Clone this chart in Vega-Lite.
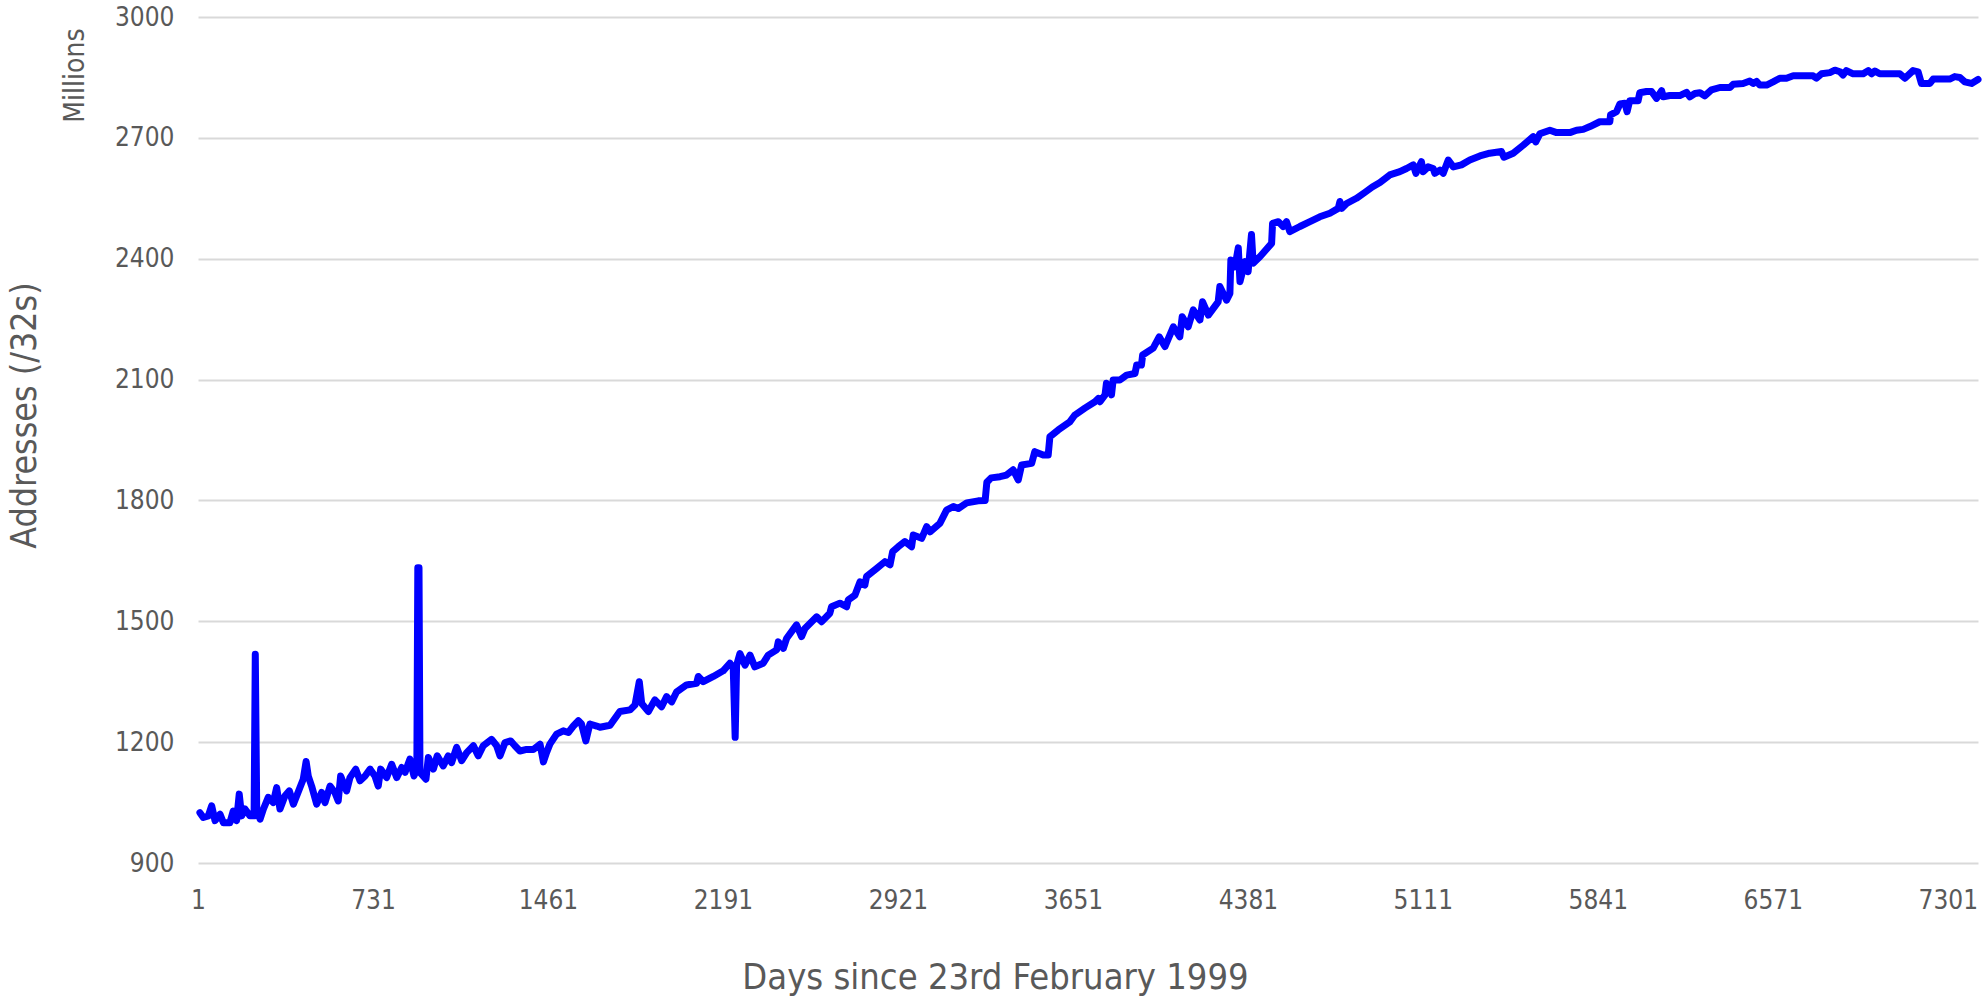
{
  "$schema": "https://vega.github.io/schema/vega-lite/v6.json",
  "width": 1780,
  "height": 846,
  "autosize": {"type": "none"},
  "padding": {"left": 198, "top": 17, "right": 4, "bottom": 134},
  "background": "white",
  "config": {"view": {"stroke": null}, "font": "DejaVu Sans Condensed"},
  "data": {"values": [
    {"day":9,"addresses":1025},{"day":23,"addresses":1013},{"day":44,"addresses":1017},{"day":58,"addresses":1042},{"day":72,"addresses":1005},{"day":93,"addresses":1021},{"day":107,"addresses":1000},{"day":134,"addresses":1000},{"day":148,"addresses":1029},{"day":162,"addresses":1005},{"day":173,"addresses":1071},{"day":183,"addresses":1017},{"day":197,"addresses":1034},{"day":218,"addresses":1017},{"day":235,"addresses":1017},{"day":240,"addresses":1418},{"day":246,"addresses":1034},{"day":260,"addresses":1009},{"day":274,"addresses":1034},{"day":294,"addresses":1063},{"day":315,"addresses":1050},{"day":329,"addresses":1087},{"day":343,"addresses":1034},{"day":364,"addresses":1067},{"day":382,"addresses":1079},{"day":399,"addresses":1046},{"day":426,"addresses":1087},{"day":440,"addresses":1108},{"day":452,"addresses":1152},{"day":461,"addresses":1116},{"day":475,"addresses":1091},{"day":496,"addresses":1046},{"day":517,"addresses":1075},{"day":531,"addresses":1050},{"day":552,"addresses":1091},{"day":572,"addresses":1075},{"day":586,"addresses":1054},{"day":596,"addresses":1116},{"day":621,"addresses":1079},{"day":635,"addresses":1112},{"day":659,"addresses":1133},{"day":677,"addresses":1104},{"day":698,"addresses":1116},{"day":719,"addresses":1133},{"day":739,"addresses":1116},{"day":753,"addresses":1091},{"day":763,"addresses":1133},{"day":788,"addresses":1112},{"day":809,"addresses":1145},{"day":830,"addresses":1112},{"day":851,"addresses":1137},{"day":865,"addresses":1125},{"day":885,"addresses":1158},{"day":902,"addresses":1116},{"day":914,"addresses":1133},{"day":918,"addresses":1633},{"day":923,"addresses":1633},{"day":927,"addresses":1125},{"day":952,"addresses":1108},{"day":962,"addresses":1162},{"day":983,"addresses":1133},{"day":999,"addresses":1166},{"day":1024,"addresses":1141},{"day":1045,"addresses":1166},{"day":1059,"addresses":1149},{"day":1080,"addresses":1187},{"day":1101,"addresses":1154},{"day":1122,"addresses":1174},{"day":1150,"addresses":1191},{"day":1170,"addresses":1166},{"day":1191,"addresses":1191},{"day":1226,"addresses":1207},{"day":1247,"addresses":1191},{"day":1261,"addresses":1166},{"day":1282,"addresses":1199},{"day":1305,"addresses":1203},{"day":1323,"addresses":1191},{"day":1344,"addresses":1178},{"day":1372,"addresses":1182},{"day":1400,"addresses":1182},{"day":1428,"addresses":1195},{"day":1442,"addresses":1151},{"day":1455,"addresses":1174},{"day":1469,"addresses":1195},{"day":1497,"addresses":1220},{"day":1525,"addresses":1228},{"day":1546,"addresses":1224},{"day":1567,"addresses":1240},{"day":1588,"addresses":1253},{"day":1601,"addresses":1245},{"day":1619,"addresses":1203},{"day":1636,"addresses":1245},{"day":1664,"addresses":1240},
    {"day":1678,"addresses":1237},{"day":1720,"addresses":1242},{"day":1761,"addresses":1276},{"day":1803,"addresses":1280},{"day":1824,"addresses":1292},{"day":1842,"addresses":1350},{"day":1852,"addresses":1296},{"day":1880,"addresses":1276},{"day":1907,"addresses":1305},{"day":1935,"addresses":1288},{"day":1956,"addresses":1313},{"day":1977,"addresses":1300},{"day":1998,"addresses":1325},{"day":2039,"addresses":1342},{"day":2081,"addresses":1346},{"day":2088,"addresses":1363},{"day":2109,"addresses":1350},{"day":2151,"addresses":1363},{"day":2192,"addresses":1377},{"day":2220,"addresses":1396},{"day":2234,"addresses":1383},{"day":2242,"addresses":1212},{"day":2248,"addresses":1391},{"day":2262,"addresses":1420},{"day":2283,"addresses":1391},{"day":2304,"addresses":1416},{"day":2324,"addresses":1387},{"day":2359,"addresses":1396},{"day":2380,"addresses":1416},{"day":2415,"addresses":1429},{"day":2422,"addresses":1449},{"day":2443,"addresses":1433},{"day":2457,"addresses":1458},{"day":2498,"addresses":1491},{"day":2519,"addresses":1462},{"day":2533,"addresses":1482},{"day":2582,"addresses":1511},{"day":2603,"addresses":1499},{"day":2637,"addresses":1520},{"day":2644,"addresses":1536},{"day":2679,"addresses":1545},{"day":2707,"addresses":1536},{"day":2714,"addresses":1553},{"day":2742,"addresses":1565},{"day":2763,"addresses":1598},{"day":2783,"addresses":1590},{"day":2790,"addresses":1611},{"day":2832,"addresses":1631},{"day":2867,"addresses":1648},{"day":2888,"addresses":1640},{"day":2899,"addresses":1673},{"day":2922,"addresses":1685},{"day":2950,"addresses":1698},{"day":2978,"addresses":1685},{"day":2985,"addresses":1714},{"day":3020,"addresses":1706},{"day":3041,"addresses":1735},{"day":3055,"addresses":1722},{"day":3096,"addresses":1743},{"day":3124,"addresses":1776},{"day":3152,"addresses":1785},{"day":3173,"addresses":1780},{"day":3208,"addresses":1794},{"day":3256,"addresses":1799},{"day":3285,"addresses":1800},{"day":3292,"addresses":1845},{"day":3310,"addresses":1856},
    {"day":3347,"addresses":1859},{"day":3374,"addresses":1863},{"day":3402,"addresses":1876},{"day":3423,"addresses":1851},{"day":3437,"addresses":1888},{"day":3479,"addresses":1892},{"day":3492,"addresses":1921},{"day":3527,"addresses":1913},{"day":3548,"addresses":1913},{"day":3555,"addresses":1958},{"day":3590,"addresses":1975},{"day":3638,"addresses":1995},{"day":3659,"addresses":2012},{"day":3701,"addresses":2029},{"day":3743,"addresses":2045},{"day":3757,"addresses":2053},{"day":3764,"addresses":2045},{"day":3785,"addresses":2062},{"day":3791,"addresses":2091},{"day":3812,"addresses":2062},{"day":3819,"addresses":2099},{"day":3847,"addresses":2099},{"day":3875,"addresses":2111},{"day":3910,"addresses":2115},{"day":3917,"addresses":2136},{"day":3937,"addresses":2136},{"day":3942,"addresses":2161},{"day":3986,"addresses":2178},{"day":4011,"addresses":2206},{"day":4035,"addresses":2182},{"day":4070,"addresses":2231},{"day":4097,"addresses":2206},{"day":4107,"addresses":2256},{"day":4132,"addresses":2231},{"day":4153,"addresses":2273},{"day":4181,"addresses":2248},{"day":4192,"addresses":2293},{"day":4216,"addresses":2260},{"day":4257,"addresses":2293},{"day":4264,"addresses":2331},{"day":4292,"addresses":2297},{"day":4306,"addresses":2314},{"day":4310,"addresses":2397},{"day":4327,"addresses":2380},{"day":4341,"addresses":2427},{"day":4348,"addresses":2343},{"day":4369,"addresses":2393},{"day":4382,"addresses":2368},{"day":4396,"addresses":2460},{"day":4403,"addresses":2389},{"day":4431,"addresses":2405},{"day":4480,"addresses":2438},{"day":4484,"addresses":2488},{"day":4508,"addresses":2492},{"day":4528,"addresses":2480},{"day":4542,"addresses":2492},{"day":4556,"addresses":2467},{"day":4598,"addresses":2480},{"day":4640,"addresses":2492},{"day":4681,"addresses":2504},{"day":4723,"addresses":2513},{"day":4758,"addresses":2525},{"day":4765,"addresses":2542},{"day":4772,"addresses":2525},{"day":4793,"addresses":2537},{"day":4834,"addresses":2550},{"day":4870,"addresses":2565},{"day":4900,"addresses":2578},
    {"day":4932,"addresses":2589},{"day":4973,"addresses":2608},{"day":5015,"addresses":2616},{"day":5043,"addresses":2624},{"day":5071,"addresses":2633},{"day":5082,"addresses":2612},{"day":5105,"addresses":2641},{"day":5112,"addresses":2616},{"day":5133,"addresses":2628},{"day":5154,"addresses":2624},{"day":5161,"addresses":2612},{"day":5182,"addresses":2620},{"day":5196,"addresses":2612},{"day":5217,"addresses":2645},{"day":5238,"addresses":2628},{"day":5272,"addresses":2633},{"day":5307,"addresses":2645},{"day":5349,"addresses":2655},{"day":5390,"addresses":2662},{"day":5439,"addresses":2666},{"day":5449,"addresses":2652},{"day":5488,"addresses":2662},{"day":5530,"addresses":2682},{"day":5571,"addresses":2703},{"day":5582,"addresses":2690},{"day":5599,"addresses":2710},{"day":5641,"addresses":2719},{"day":5669,"addresses":2713},{"day":5724,"addresses":2713},{"day":5752,"addresses":2719},{"day":5780,"addresses":2721},{"day":5808,"addresses":2728},{"day":5849,"addresses":2740},{"day":5891,"addresses":2740},{"day":5894,"addresses":2757},{"day":5919,"addresses":2765},{"day":5933,"addresses":2784},{"day":5954,"addresses":2786},{"day":5963,"addresses":2765},{"day":5974,"addresses":2792},{"day":6009,"addresses":2792},{"day":6016,"addresses":2812},{"day":6044,"addresses":2815},{"day":6065,"addresses":2815},{"day":6086,"addresses":2798},{"day":6107,"addresses":2817},{"day":6114,"addresses":2802},{"day":6141,"addresses":2805},{"day":6183,"addresses":2805},{"day":6211,"addresses":2813},{"day":6225,"addresses":2802},{"day":6246,"addresses":2810},
    {"day":6267,"addresses":2812},{"day":6287,"addresses":2804},{"day":6315,"addresses":2819},{"day":6350,"addresses":2825},{"day":6392,"addresses":2825},{"day":6406,"addresses":2833},{"day":6447,"addresses":2835},{"day":6475,"addresses":2841},{"day":6489,"addresses":2835},{"day":6503,"addresses":2840},{"day":6517,"addresses":2831},{"day":6545,"addresses":2831},{"day":6572,"addresses":2839},{"day":6600,"addresses":2848},{"day":6628,"addresses":2848},{"day":6656,"addresses":2854},{"day":6698,"addresses":2854},{"day":6739,"addresses":2854},{"day":6753,"addresses":2848},{"day":6774,"addresses":2859},{"day":6809,"addresses":2862},{"day":6830,"addresses":2868},{"day":6851,"addresses":2864},{"day":6864,"addresses":2856},{"day":6878,"addresses":2867},{"day":6906,"addresses":2859},{"day":6948,"addresses":2859},{"day":6969,"addresses":2867},{"day":6983,"addresses":2859},{"day":6997,"addresses":2866},{"day":7017,"addresses":2859},{"day":7059,"addresses":2859},{"day":7101,"addresses":2859},{"day":7122,"addresses":2848},{"day":7156,"addresses":2867},{"day":7177,"addresses":2864},{"day":7191,"addresses":2835},{"day":7226,"addresses":2835},{"day":7240,"addresses":2846},{"day":7282,"addresses":2846},{"day":7309,"addresses":2846},{"day":7330,"addresses":2852},{"day":7351,"addresses":2850},{"day":7372,"addresses":2839},{"day":7400,"addresses":2835},{"day":7427,"addresses":2845}
  ]},
  "encoding": {
    "x": {
      "field": "day",
      "type": "quantitative",
      "scale": {"domain": [1, 7427], "nice": false, "zero": false},
      "axis": {
        "values": [1, 731, 1461, 2191, 2921, 3651, 4381, 5111, 5841, 6571, 7301],
        "format": "d",
        "grid": false,
        "domain": false,
        "ticks": false,
        "tickSize": 0,
        "labelPadding": 24,
        "labelFlush": false,
        "labelOverlap": false,
        "labelFontSize": 26,
        "labelColor": "#595959",
        "title": "Days since 23rd February 1999",
        "titleFontSize": 36,
        "titleFontWeight": "normal",
        "titleColor": "#595959",
        "titleX": 797,
        "titleY": 125,
        "titleAlign": "center",
        "titleBaseline": "alphabetic"
      }
    }
  },
  "layer": [
    {
      "mark": {"type": "line", "color": "#0000ff", "strokeWidth": 7, "strokeJoin": "round", "strokeCap": "round"},
      "encoding": {
        "y": {
          "field": "addresses",
          "type": "quantitative",
          "scale": {"domain": [900, 3000], "nice": false, "zero": false},
          "axis": {
            "orient": "left",
            "values": [900, 1200, 1500, 1800, 2100, 2400, 2700, 3000],
            "format": "d",
            "grid": true,
            "gridColor": "#d9d9d9",
            "gridWidth": 2,
            "domain": false,
            "ticks": false,
            "tickSize": 0,
            "labelPadding": 24,
            "labelOverlap": false,
            "labelFontSize": 26,
            "labelColor": "#595959",
            "title": "Addresses (/32s)",
            "titleFontSize": 35.5,
            "titleFontWeight": "normal",
            "titleColor": "#595959",
            "titleAngle": 270,
            "titleX": -174,
            "titleY": 398,
            "titleAlign": "center",
            "titleBaseline": "middle"
          }
        }
      }
    },
    {
      "mark": {"type": "line", "opacity": 0},
      "encoding": {
        "y": {
          "field": "addresses",
          "type": "quantitative",
          "scale": {"domain": [900, 3000], "nice": false, "zero": false},
          "axis": {
            "orient": "left",
            "labels": false,
            "grid": false,
            "domain": false,
            "ticks": false,
            "tickSize": 0,
            "title": "Millions",
            "titleFontSize": 28,
            "titleFontWeight": "normal",
            "titleColor": "#595959",
            "titleAngle": 270,
            "titleX": -123,
            "titleY": 58,
            "titleAlign": "center",
            "titleBaseline": "middle"
          }
        }
      }
    }
  ],
  "resolve": {"axis": {"y": "independent"}}
}
